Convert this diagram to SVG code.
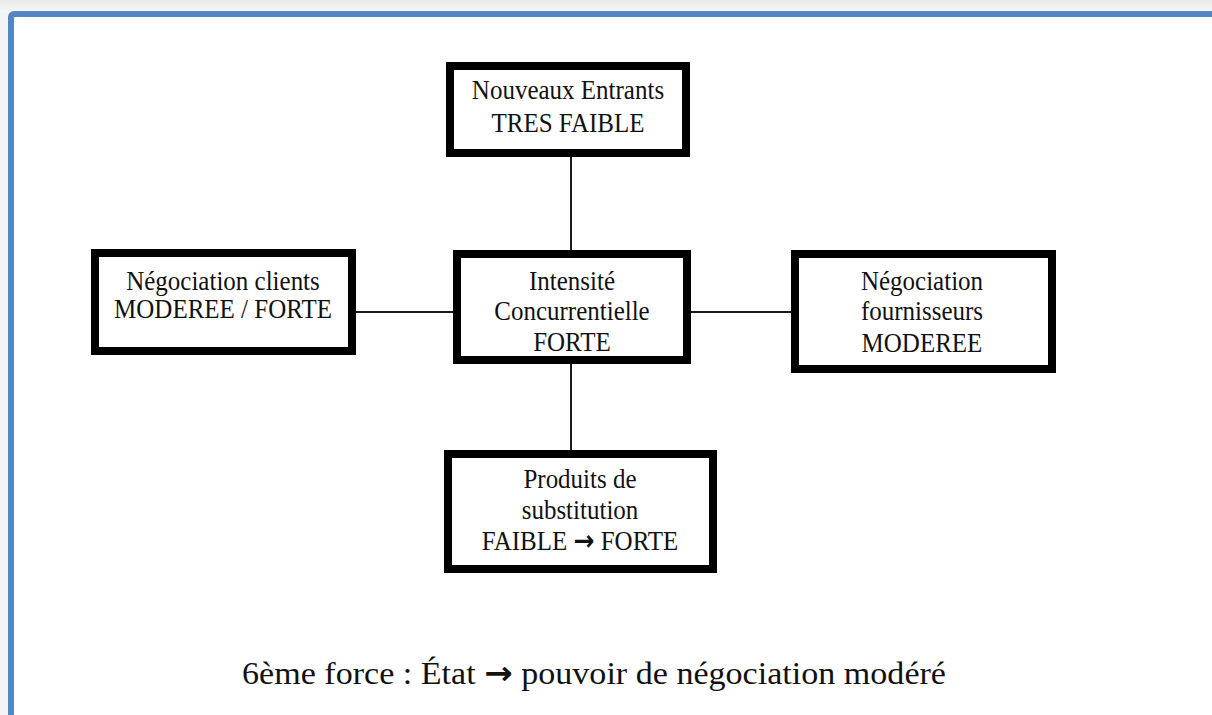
<svg xmlns="http://www.w3.org/2000/svg" width="1212" height="715" viewBox="0 0 1212 715">
  <defs>
    <linearGradient id="topband" x1="0" y1="0" x2="0" y2="1">
      <stop offset="0" stop-color="#e9e9e9"/>
      <stop offset="1" stop-color="#f7f7f7"/>
    </linearGradient>
  </defs>
  <style>
    .box { fill: #ffffff; stroke: #000000; stroke-width: 8; }
    .conn { stroke: #1a1a1a; stroke-width: 2; fill: none; }
    .lbl { font-family: "Liberation Serif", "Times New Roman", serif; font-size: 25px; fill: #111111; text-anchor: middle; }
    .cap { font-family: "Liberation Serif", "Times New Roman", serif; font-size: 32px; fill: #111111; text-anchor: middle; }
    .arr { font-family: "DejaVu Sans", sans-serif; font-weight: bold; }
  </style>
  <rect x="0" y="0" width="1212" height="715" fill="#f4f4f4"/>
  <rect x="0" y="0" width="1212" height="12" fill="url(#topband)"/>
  <g id="frame">
    <rect x="11" y="14" width="1260" height="760" rx="3" fill="#ffffff" stroke="#5585c2" stroke-width="6"/>
  </g>
  <g id="connectors">
    <line class="conn" x1="571" y1="157" x2="571" y2="250"/>
    <line class="conn" x1="571" y1="364" x2="571" y2="451"/>
    <line class="conn" x1="356" y1="312" x2="453" y2="312"/>
    <line class="conn" x1="691" y1="312" x2="791" y2="312"/>
  </g>
  <g id="node-nouveaux">
    <rect class="box" x="450" y="66" width="236" height="87"/>
    <text class="lbl" x="568" y="99" transform="matrix(1 0 0 1.12 0 -11.88)">Nouveaux Entrants</text>
    <text class="lbl" x="568" y="132" transform="matrix(1 0 0 1.12 0 -15.84)">TRES FAIBLE</text>
  </g>
  <g id="node-clients">
    <rect class="box" x="95" y="253" width="257" height="98"/>
    <text class="lbl" x="223" y="290" transform="matrix(1 0 0 1.12 0 -34.8)">Négociation clients</text>
    <text class="lbl" x="223" y="318" transform="matrix(1 0 0 1.12 0 -38.16)">MODEREE / FORTE</text>
  </g>
  <g id="node-intensite">
    <rect class="box" x="457" y="254" width="230" height="106"/>
    <text class="lbl" x="572" y="290" transform="matrix(1 0 0 1.12 0 -34.8)">Intensité</text>
    <text class="lbl" x="572" y="320" transform="matrix(1 0 0 1.12 0 -38.4)">Concurrentielle</text>
    <text class="lbl" x="572" y="351" transform="matrix(1 0 0 1.12 0 -42.12)">FORTE</text>
  </g>
  <g id="node-fournisseurs">
    <rect class="box" x="795" y="254" width="257" height="115"/>
    <text class="lbl" x="922" y="290" transform="matrix(1 0 0 1.12 0 -34.8)">Négociation</text>
    <text class="lbl" x="922" y="320" transform="matrix(1 0 0 1.12 0 -38.4)">fournisseurs</text>
    <text class="lbl" x="922" y="352" transform="matrix(1 0 0 1.12 0 -42.24)">MODEREE</text>
  </g>
  <g id="node-substitution">
    <rect class="box" x="448" y="454" width="265" height="115"/>
    <text class="lbl" x="580" y="488" transform="matrix(1 0 0 1.12 0 -58.56)">Produits de</text>
    <text class="lbl" x="580" y="519" transform="matrix(1 0 0 1.12 0 -62.28)">substitution</text>
    <text class="lbl" x="580" y="550" transform="matrix(1 0 0 1.12 0 -66)">FAIBLE <tspan class="arr">→</tspan> FORTE</text>
  </g>
  <g id="caption">
    <text class="cap" x="594" y="684" textLength="704" lengthAdjust="spacingAndGlyphs">6ème force : État <tspan class="arr">→</tspan> pouvoir de négociation modéré</text>
  </g>
</svg>
